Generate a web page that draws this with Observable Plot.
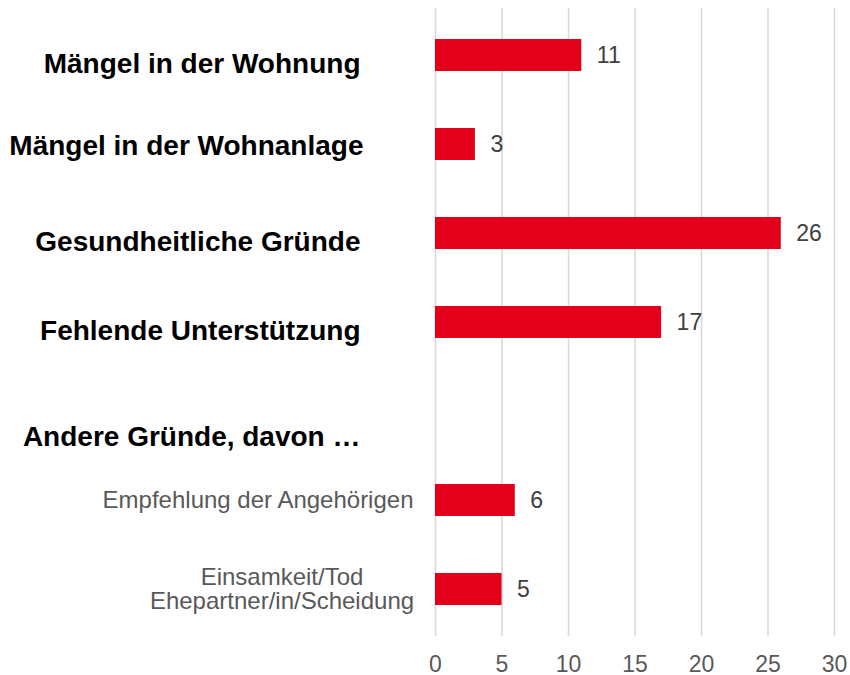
<!DOCTYPE html>
<html>
<head>
<meta charset="utf-8">
<script src="https://cdn.jsdelivr.net/npm/d3@7"></script>
<script src="https://cdn.jsdelivr.net/npm/@observablehq/plot@0.6"></script>
<style>
  html, body { margin: 0; padding: 0; background: #fff; }
  #chart { width: 850px; height: 675px; }
</style>
</head>
<body>
<div id="chart"></div>
<script>
const categories = [
  "Mängel in der Wohnung",
  "Mängel in der Wohnanlage",
  "Gesundheitliche Gründe",
  "Fehlende Unterstützung",
  "Andere Gründe, davon …",
  "Empfehlung der Angehörigen",
  "Einsamkeit/Tod\nEhepartner/in/Scheidung"
];
const values = [11, 3, 26, 17, null, 6, 5];
const groups = ["main", "main2", "main", "main", "header", "sub", "sub2"];
const xTicks = [0, 5, 10, 15, 20, 25, 30];

const rows = categories.map((c, i) => ({category: c, value: values[i], group: groups[i]}));
const bars = rows.filter(d => d.value != null);
const pick = g => rows.filter(d => d.group === g);

const font = "'Liberation Sans', Arial, Helvetica, sans-serif";

const chart = Plot.plot({
  width: 850,
  height: 675,
  marginLeft: 435,
  marginRight: 16,
  marginTop: 8,
  marginBottom: 39,
  style: {fontFamily: font, background: "#fff", overflow: "visible"},
  x: {domain: [0, 30], axis: null},
  y: {
    type: "band",
    domain: categories,
    range: [0, 644.6],
    paddingInner: 0.643,
    paddingOuter: 0.416,
    axis: null
  },
  marks: [
    Plot.gridX(xTicks, {stroke: "#d9d9d9", strokeOpacity: 1, strokeWidth: 1.6}),
    Plot.axisX({ticks: xTicks, tickSize: 0, tickPadding: 19, fontSize: 23, fill: "#595959", label: null}),
    Plot.barX(bars, {x: "value", y: "category", fill: "#e3001b"}),
    Plot.text(bars, {x: "value", y: "category", text: d => String(d.value), dx: 15, textAnchor: "start", fill: "#404040", fontSize: 23}),
    Plot.text(pick("main"), {x: 0, y: "category", text: "category", dx: -75, dy: 9, textAnchor: "end", fontWeight: "bold", fontSize: 28, fill: "#000"}),
    Plot.text(pick("main2"), {x: 0, y: "category", text: "category", dx: -72, dy: 2, textAnchor: "end", fontWeight: "bold", fontSize: 28, fill: "#000"}),
    Plot.text(pick("header"), {x: 0, y: "category", text: "category", dx: -75, dy: 26, textAnchor: "end", fontWeight: "bold", fontSize: 28, fill: "#000"}),
    Plot.text(pick("sub"), {x: 0, y: "category", text: "category", dx: -22, textAnchor: "end", fontSize: 24, fill: "#595959"}),
    Plot.text(pick("sub2"), {x: 0, y: "category", text: "category", dx: -153.5, textAnchor: "middle", fontSize: 24, lineHeight: 1.0, fill: "#595959"})
  ]
});
document.getElementById("chart").appendChild(chart);
</script>
</body>
</html>
